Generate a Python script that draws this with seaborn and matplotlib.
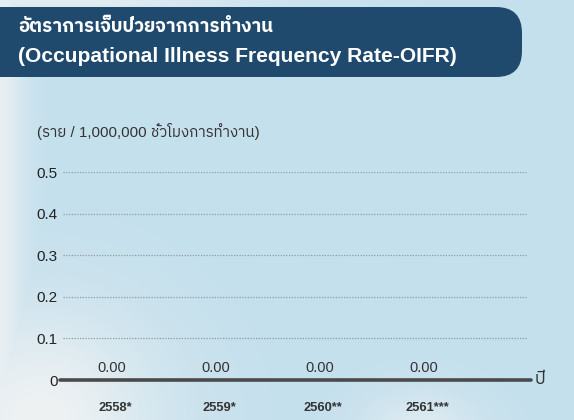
import matplotlib
matplotlib.use('Agg')
import matplotlib.pyplot as plt
from matplotlib.patches import FancyBboxPatch
import numpy as np
import pandas as pd
import seaborn as sns

years = ['2558*', '2559*', '2560**', '2561***']
oifr = [0.00, 0.00, 0.00, 0.00]
yticks = [0, 0.1, 0.2, 0.3, 0.4, 0.5]
ytick_labels = ['0', '0.1', '0.2', '0.3', '0.4', '0.5']
title_th = 'อัตราการเจ็บป่วยจากการทำงาน'
title_en = '(Occupational Illness Frequency Rate-OIFR)'
unit_label = '(ราย / 1,000,000 ชั่วโมงการทำงาน)'
x_unit = 'ปี'

df = pd.DataFrame({'year': years, 'oifr': oifr})

sns.set_theme(style='white')
plt.rcParams['font.family'] = ['Liberation Sans', 'IBM Plex Sans Thai', 'DejaVu Sans']

fig = plt.figure(figsize=(5.74, 4.2), dpi=100)

# soft watercolour-like background
bg = fig.add_axes([0, 0, 1, 1], zorder=-10)
h, w = 420, 574
yy, xx = np.mgrid[0:h, 0:w]
blue = np.array([197, 224, 237]) / 255
white = np.array([239, 242, 243]) / 255
m = np.exp(-(((xx - 40) / 120.0) ** 2 + ((yy - 420) / 110.0) ** 2))
m = np.maximum(m, np.exp(-((xx / 25.0) ** 2)) * 0.8)
m = np.maximum(m, np.exp(-(((xx - 420) / 60.0) ** 2 + ((yy - 430) / 40.0) ** 2)) * 0.6)
m = np.maximum(m, np.exp(-(((xx - 60) / 200.0) ** 2 + ((yy - 0) / 12.0) ** 2)) * 0.7)
img = blue[None, None, :] * (1 - m[..., None]) + white[None, None, :] * m[..., None]
bg.imshow(img, aspect='auto', extent=[0, 1, 0, 1], origin='upper')
bg.axis('off')

# header band, left corners pushed off the figure
band = FancyBboxPatch((-0.4, 3.43), 5.62, 0.70,
                      boxstyle='round,pad=0,rounding_size=0.26',
                      transform=fig.dpi_scale_trans, facecolor='#1f4a6e',
                      edgecolor='none', zorder=1)
fig.patches.append(band)
fig.text(18 / 574, 1 - 27 / 420, title_th, color='white', fontsize=13.5,
         fontweight='bold', va='center', ha='left', zorder=2)
fig.text(18 / 574, 1 - 56 / 420, title_en, color='white', fontsize=15.1,
         fontweight='bold', va='center', ha='left', zorder=2)

fig.text(37 / 574, 1 - 131 / 420, unit_label, color='#333333', fontsize=10.9,
         va='center', ha='left')

ax = fig.add_axes([63 / 574, 1 - 380 / 420, 464 / 574, 208 / 420])
ax.set_facecolor('none')
sns.barplot(data=df, x='year', y='oifr', ax=ax, color='#1f4a6e', width=0.5)
ax.set_xlim(-0.5, 3.96)
ax.set_ylim(0, 0.5)
ax.set_yticks(yticks)
ax.set_yticklabels(ytick_labels)
for s in ax.spines.values():
    s.set_visible(False)
for t in yticks[1:]:
    ax.axhline(t, color='#8c9aa3', lw=0.9, ls=(0, (1, 1.2)), zorder=0)
ax.plot([-0.53, 4.0], [0, 0], color='#4a4a4a', lw=2.6, clip_on=False, zorder=3)
ax.tick_params(axis='y', length=0, pad=4, labelsize=11, labelcolor='#222222')
ax.tick_params(axis='x', length=0, pad=16, labelsize=9.3)
for lbl in ax.get_xticklabels():
    lbl.set_fontweight('bold')
    lbl.set_color('#333333')
ax.set_xlabel('')
ax.set_ylabel('')
for i, v in enumerate(oifr):
    ax.text(i - 0.03, v + 0.028, f'{v:.2f}', ha='center', va='center',
            fontsize=10.5, color='#333333')
ax.text(1.017, 0, x_unit, transform=ax.transAxes, ha='left', va='center',
        fontsize=12.5, color='#333333')

fig.savefig('out.png', dpi=100)
